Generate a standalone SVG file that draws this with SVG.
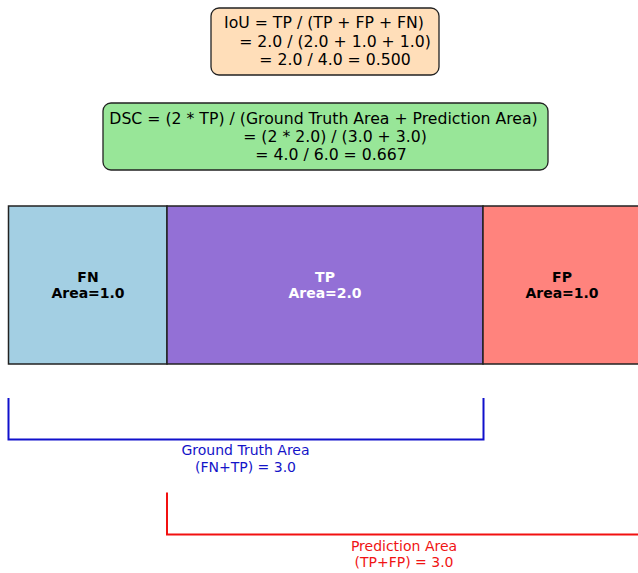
<svg xmlns="http://www.w3.org/2000/svg" width="638" height="573" viewBox="0 0 638 573">
<style>
.f{font-family:"DejaVu Sans",sans-serif;}
.formula{font-size:15.7px;fill:#000;text-anchor:middle;}
.lab{font-size:14px;font-weight:bold;text-anchor:middle;}
.brk{font-size:14px;text-anchor:middle;}
.box{stroke:#222;stroke-width:1.3;}
.reg{stroke:#222;stroke-width:1.5;}
</style>
<rect width="638" height="573" fill="#fff"/>
<g id="iou">
<rect class="box" x="211" y="8" width="228" height="67" rx="8" fill="#FFDEB9"/>
<text class="f formula"><tspan x="324" y="28">IoU = TP / (TP + FP + FN)</tspan><tspan x="335" y="46.5">= 2.0 / (2.0 + 1.0 + 1.0)</tspan><tspan x="335" y="64.5">= 2.0 / 4.0 = 0.500</tspan></text>
</g>
<g id="dsc">
<rect class="box" x="103" y="103" width="445" height="67" rx="8" fill="#98E698"/>
<text class="f formula"><tspan x="323.5" y="123.5">DSC = (2 * TP) / (Ground Truth Area + Prediction Area)</tspan><tspan x="335" y="141.8">= (2 * 2.0) / (3.0 + 3.0)</tspan><tspan x="331" y="160">= 4.0 / 6.0 = 0.667</tspan></text>
</g>
<g id="fn">
<rect class="reg" x="8.5" y="206" width="158.5" height="158" fill="#A3CFE3"/>
<text class="f lab" fill="#000"><tspan x="88" y="281.5">FN</tspan><tspan x="88" y="297.5">Area=1.0</tspan></text>
</g>
<g id="tp">
<rect class="reg" x="167" y="206" width="316" height="158" fill="#9370D6"/>
<text class="f lab" fill="#fff"><tspan x="325" y="281.5">TP</tspan><tspan x="325" y="297.5">Area=2.0</tspan></text>
</g>
<g id="fp">
<rect class="reg" x="483" y="206" width="158" height="158" fill="#FF837D"/>
<text class="f lab" fill="#000"><tspan x="562" y="281.5">FP</tspan><tspan x="562" y="297.5">Area=1.0</tspan></text>
</g>
<g id="connectors" fill="none" stroke-width="2">
<path d="M8.5 398 V439.5 H483.5 V398" stroke="#1010CC"/>
<path d="M167 492.5 V534.5 H642 V492.5" stroke="#F21010"/>
</g>
<g id="gt-label">
<text class="f brk" fill="#1414C8"><tspan x="245.5" y="455.3">Ground Truth Area</tspan><tspan x="245.5" y="471.8">(FN+TP) = 3.0</tspan></text>
</g>
<g id="pred-label">
<text class="f brk" fill="#F01414"><tspan x="404" y="550.5">Prediction Area</tspan><tspan x="404" y="567">(TP+FP) = 3.0</tspan></text>
</g>
</svg>
